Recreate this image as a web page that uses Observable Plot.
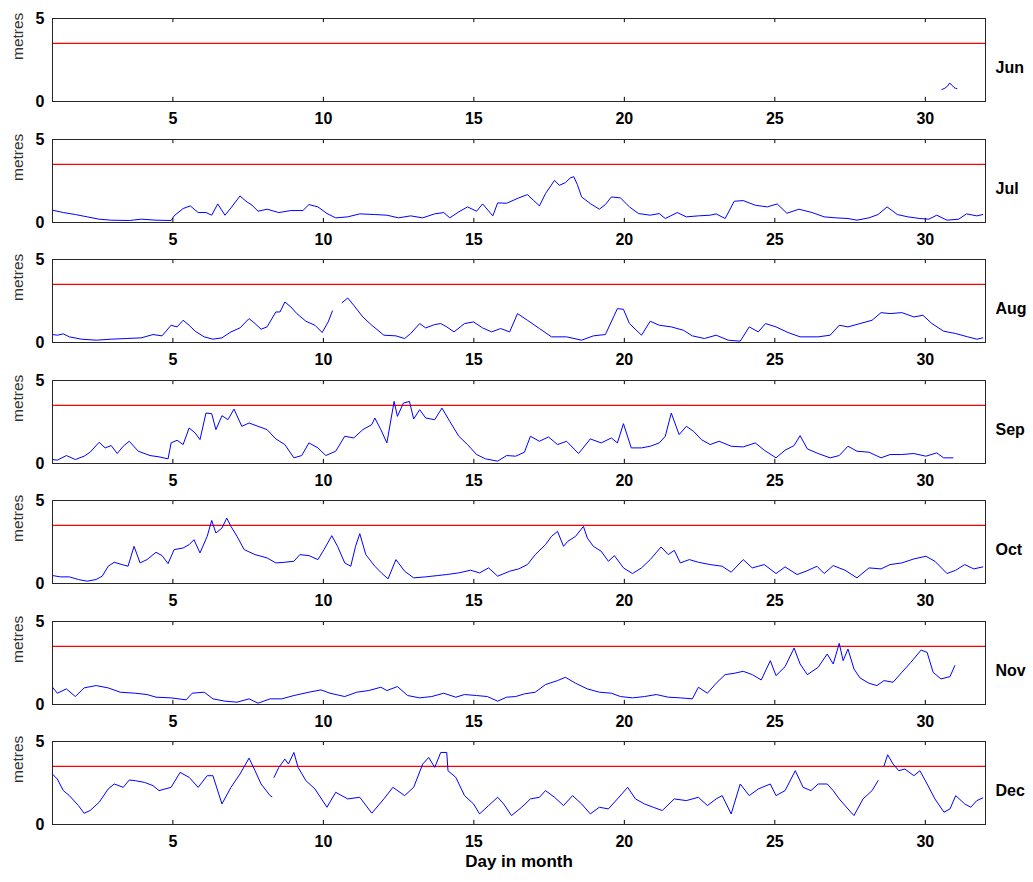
<!DOCTYPE html>
<html><head><meta charset="utf-8">
<script src="https://cdn.jsdelivr.net/npm/d3@7"></script>
<script src="https://cdn.jsdelivr.net/npm/@observablehq/plot@0.6"></script>
<style>
body{margin:0;background:#fff}
#c{position:relative;width:1033px;height:882px;overflow:hidden}
</style>
</head><body><div id="c"></div>
<script>
const months = ["Jun","Jul","Aug","Sep","Oct","Nov","Dec"];
const xTicks = [5,10,15,20,25,30];
const yTicks = [0,5];
const threshold = 3.5;
const xLabel = "Day in month";
const yLabel = "metres";

const jun = [[30.55,0.72],[30.65,0.8],[30.75,0.95],[30.8,1.1],[30.85,1.05],[30.9,0.95],[30.95,0.85],[31.0,0.8],[31.05,0.78]];
const jul = [[1.0,0.74],[1.36,0.6],[1.76,0.48],[2.15,0.34],[2.55,0.2],[2.95,0.14],[3.55,0.12],[3.95,0.2],[4.44,0.14],[4.94,0.12],[5.04,0.4],[5.34,0.84],[5.58,1.0],[5.84,0.6],[6.1,0.6],[6.29,0.44],[6.49,1.12],[6.73,0.44],[6.93,0.88],[7.23,1.6],[7.43,1.28],[7.63,1.04],[7.83,0.68],[8.13,0.8],[8.52,0.6],[8.92,0.72],[9.32,0.72],[9.52,1.08],[9.82,0.94],[10.12,0.54],[10.41,0.28],[10.81,0.34],[11.21,0.52],[11.71,0.48],[12.11,0.44],[12.5,0.28],[12.9,0.4],[13.3,0.28],[13.7,0.52],[14.0,0.6],[14.2,0.28],[14.5,0.64],[14.79,0.94],[15.09,0.68],[15.29,1.12],[15.63,0.4],[15.79,1.18],[16.09,1.16],[16.49,1.48],[16.78,1.68],[16.98,1.34],[17.18,1.0],[17.38,1.74],[17.68,2.54],[17.84,2.24],[18.04,2.4],[18.2,2.68],[18.32,2.76],[18.44,2.28],[18.58,1.54],[18.87,1.14],[19.17,0.8],[19.37,1.08],[19.57,1.54],[19.87,1.48],[20.17,0.94],[20.47,0.54],[20.86,0.44],[21.16,0.54],[21.36,0.24],[21.76,0.6],[22.06,0.34],[22.46,0.4],[22.85,0.44],[23.05,0.52],[23.35,0.24],[23.65,1.28],[23.95,1.32],[24.35,1.04],[24.75,0.94],[25.08,1.12],[25.4,0.56],[25.8,0.8],[26.24,0.6],[26.64,0.34],[27.03,0.28],[27.43,0.24],[27.73,0.14],[28.13,0.28],[28.43,0.48],[28.73,0.94],[29.07,0.48],[29.42,0.34],[29.82,0.24],[30.12,0.2],[30.38,0.44],[30.72,0.14],[31.11,0.2],[31.37,0.52],[31.71,0.4],[31.91,0.48]];
const aug = [[1.0,0.48],[1.16,0.44],[1.36,0.52],[1.56,0.34],[1.96,0.2],[2.45,0.14],[2.95,0.2],[3.45,0.24],[3.95,0.28],[4.34,0.48],[4.64,0.4],[4.94,1.04],[5.14,0.94],[5.34,1.34],[5.54,1.04],[5.74,0.68],[6.04,0.34],[6.33,0.2],[6.63,0.28],[6.93,0.64],[7.23,0.88],[7.53,1.44],[7.73,1.14],[7.93,0.8],[8.13,0.94],[8.42,1.84],[8.56,1.84],[8.72,2.44],[8.92,2.14],[9.12,1.74],[9.42,1.28],[9.72,1.04],[9.96,0.6],[10.16,1.24],[10.3,1.9],[10.45,NaN],[10.62,2.4],[10.81,2.68],[11.01,2.24],[11.31,1.54],[11.61,1.04],[12.01,0.44],[12.41,0.4],[12.7,0.24],[12.9,0.54],[13.2,1.14],[13.4,0.88],[13.7,1.08],[13.9,1.14],[14.1,0.94],[14.34,0.64],[14.69,1.14],[14.99,1.24],[15.29,0.88],[15.59,0.64],[15.89,0.84],[16.19,0.64],[16.45,1.74],[16.78,1.34],[17.18,0.84],[17.58,0.34],[18.08,0.34],[18.58,0.14],[18.97,0.4],[19.37,0.48],[19.77,2.04],[19.97,2.0],[20.17,1.14],[20.57,0.44],[20.86,1.28],[21.16,1.04],[21.56,0.94],[21.96,0.74],[22.26,0.4],[22.66,0.24],[23.05,0.44],[23.45,0.14],[23.85,0.08],[24.15,0.94],[24.45,0.64],[24.69,1.14],[25.04,0.94],[25.44,0.6],[25.84,0.34],[26.44,0.34],[26.84,0.44],[27.14,1.04],[27.43,0.94],[27.83,1.14],[28.23,1.34],[28.53,1.8],[28.83,1.74],[29.22,1.8],[29.62,1.54],[29.92,1.64],[30.22,1.14],[30.61,0.68],[31.01,0.54],[31.41,0.34],[31.71,0.2],[31.91,0.28]];
const sep = [[1.0,0.24],[1.16,0.2],[1.46,0.48],[1.76,0.24],[2.05,0.44],[2.25,0.68],[2.55,1.28],[2.75,0.94],[2.95,1.08],[3.15,0.6],[3.35,1.04],[3.55,1.34],[3.85,0.74],[4.24,0.48],[4.54,0.4],[4.84,0.28],[4.94,1.24],[5.14,1.4],[5.34,1.14],[5.54,2.14],[5.74,1.84],[5.9,1.44],[6.1,3.04],[6.29,3.0],[6.43,2.04],[6.63,2.88],[6.83,2.64],[7.03,3.28],[7.29,2.24],[7.53,2.44],[7.83,2.24],[8.13,2.04],[8.42,1.48],[8.72,1.14],[9.02,0.34],[9.28,0.48],[9.52,1.24],[9.82,0.94],[10.08,0.48],[10.41,0.74],[10.71,1.64],[11.01,1.54],[11.31,2.04],[11.61,2.34],[11.71,2.74],[11.91,2.04],[12.11,1.24],[12.35,3.74],[12.46,2.84],[12.66,3.64],[12.86,3.74],[13.0,2.68],[13.2,3.24],[13.4,2.74],[13.7,2.64],[13.94,3.34],[14.2,2.54],[14.5,1.64],[14.79,1.14],[15.09,0.54],[15.39,0.28],[15.79,0.14],[16.09,0.48],[16.39,0.44],[16.68,0.68],[16.88,1.64],[17.18,1.34],[17.48,1.6],[17.78,1.14],[18.08,1.34],[18.48,0.6],[18.87,1.48],[19.23,1.24],[19.57,1.54],[19.77,1.24],[19.97,2.4],[20.23,0.94],[20.57,0.94],[20.86,1.04],[21.16,1.24],[21.36,1.64],[21.56,3.04],[21.82,1.74],[22.06,2.24],[22.3,1.94],[22.56,1.44],[22.85,1.14],[23.15,1.34],[23.55,1.04],[23.95,1.0],[24.35,1.24],[24.65,0.8],[25.04,0.34],[25.34,0.8],[25.64,1.08],[25.84,1.68],[26.08,0.88],[26.44,0.6],[26.84,0.34],[27.14,0.48],[27.43,1.04],[27.73,0.74],[28.13,0.68],[28.53,0.34],[28.83,0.54],[29.22,0.54],[29.62,0.6],[30.02,0.44],[30.38,0.64],[30.61,0.34],[30.92,0.34]];
const oct = [[1.0,0.48],[1.26,0.4],[1.56,0.4],[1.86,0.24],[2.15,0.14],[2.45,0.24],[2.65,0.44],[2.85,1.04],[3.05,1.28],[3.31,1.14],[3.51,1.04],[3.71,2.24],[3.91,1.24],[4.14,1.44],[4.44,1.88],[4.64,1.68],[4.84,1.2],[5.04,2.04],[5.34,2.14],[5.54,2.34],[5.7,2.64],[5.9,1.84],[6.14,2.84],[6.29,3.8],[6.43,3.04],[6.63,3.34],[6.79,3.94],[6.93,3.44],[7.13,2.84],[7.37,2.04],[7.73,1.74],[8.13,1.54],[8.42,1.24],[8.72,1.28],[9.02,1.34],[9.22,1.74],[9.52,1.68],[9.82,1.44],[10.02,2.04],[10.28,2.88],[10.47,2.24],[10.71,1.24],[10.91,1.04],[11.07,2.24],[11.21,3.0],[11.41,1.74],[11.71,1.04],[11.95,0.6],[12.15,0.28],[12.41,1.44],[12.7,0.74],[13.0,0.34],[13.4,0.4],[13.8,0.48],[14.1,0.54],[14.5,0.64],[14.89,0.8],[15.19,0.64],[15.49,0.94],[15.79,0.44],[16.19,0.74],[16.49,0.88],[16.78,1.14],[17.04,1.74],[17.38,2.34],[17.58,2.84],[17.78,3.14],[17.98,2.24],[18.12,2.54],[18.38,2.84],[18.64,3.44],[18.77,2.74],[18.97,2.24],[19.23,1.94],[19.47,1.34],[19.67,1.68],[19.97,0.94],[20.27,0.6],[20.57,0.94],[20.86,1.44],[21.22,2.2],[21.46,1.74],[21.66,2.0],[21.86,1.24],[22.16,1.44],[22.46,1.28],[22.85,1.14],[23.25,1.04],[23.55,0.68],[23.95,1.44],[24.25,0.94],[24.65,1.14],[25.04,0.6],[25.34,1.0],[25.74,0.54],[26.04,0.74],[26.4,1.04],[26.64,0.6],[26.94,1.08],[27.33,0.8],[27.73,0.34],[28.13,0.94],[28.53,0.88],[28.83,1.14],[29.22,1.24],[29.62,1.48],[30.02,1.64],[30.32,1.34],[30.72,0.6],[31.01,0.8],[31.31,1.14],[31.61,0.88],[31.91,1.0]];
const nov = [[1.0,1.04],[1.16,0.68],[1.46,0.94],[1.76,0.48],[2.05,1.0],[2.45,1.14],[2.85,1.0],[3.25,0.74],[3.75,0.68],[4.14,0.6],[4.44,0.44],[4.94,0.4],[5.44,0.28],[5.64,0.68],[6.04,0.74],[6.33,0.34],[6.73,0.2],[7.13,0.14],[7.53,0.34],[7.83,0.08],[8.23,0.34],[8.62,0.34],[9.02,0.54],[9.52,0.74],[9.92,0.88],[10.22,0.68],[10.71,0.48],[11.11,0.74],[11.51,0.84],[11.91,1.04],[12.11,0.84],[12.46,1.08],[12.8,0.54],[13.2,0.4],[13.6,0.48],[14.0,0.68],[14.4,0.44],[14.69,0.6],[15.09,0.54],[15.45,0.48],[15.79,0.2],[16.09,0.44],[16.39,0.48],[16.68,0.64],[17.04,0.74],[17.38,1.2],[17.78,1.44],[18.04,1.64],[18.38,1.28],[18.77,0.94],[19.17,0.74],[19.57,0.68],[19.87,0.48],[20.27,0.4],[20.67,0.48],[21.06,0.6],[21.46,0.44],[21.86,0.4],[22.26,0.34],[22.46,1.04],[22.76,0.68],[23.05,1.28],[23.35,1.8],[23.65,1.88],[23.95,2.0],[24.25,1.8],[24.55,1.48],[24.85,2.64],[25.04,1.74],[25.34,2.28],[25.64,3.4],[25.84,2.44],[26.08,1.8],[26.44,2.24],[26.74,3.04],[26.94,2.44],[27.14,3.68],[27.27,2.64],[27.43,3.34],[27.63,2.14],[27.83,1.6],[28.13,1.28],[28.39,1.14],[28.63,1.44],[28.93,1.34],[29.22,1.94],[29.52,2.54],[29.86,3.28],[30.06,3.14],[30.26,1.94],[30.52,1.54],[30.82,1.68],[30.98,2.34]];
const dec = [[1.0,3.04],[1.16,2.74],[1.36,2.04],[1.56,1.74],[1.86,1.14],[2.05,0.68],[2.25,0.84],[2.55,1.34],[2.85,2.14],[3.05,2.44],[3.35,2.24],[3.55,2.68],[3.75,2.64],[4.05,2.54],[4.34,2.34],[4.54,2.04],[4.94,2.24],[5.24,3.14],[5.54,2.84],[5.84,2.24],[6.14,2.94],[6.33,2.94],[6.63,1.24],[6.93,2.24],[7.23,3.04],[7.53,4.0],[7.73,3.24],[7.93,2.44],[8.23,1.74],[8.29,1.68],[8.32,NaN],[8.36,2.84],[8.52,3.44],[8.72,3.94],[8.84,3.64],[9.02,4.34],[9.16,3.44],[9.42,2.64],[9.72,2.14],[10.12,1.04],[10.41,1.94],[10.81,1.54],[11.21,1.64],[11.61,0.68],[12.01,1.54],[12.31,2.24],[12.7,1.74],[13.0,2.24],[13.3,3.64],[13.5,4.04],[13.7,3.44],[13.9,4.34],[14.1,4.34],[14.14,3.24],[14.4,2.84],[14.69,1.74],[14.99,1.24],[15.19,0.64],[15.49,1.14],[15.79,1.64],[15.99,1.24],[16.25,0.54],[16.59,1.04],[16.88,1.54],[17.18,1.64],[17.38,2.04],[17.68,1.64],[17.98,1.14],[18.28,1.74],[18.58,1.24],[18.87,0.64],[19.17,1.04],[19.47,0.94],[19.77,1.54],[20.11,2.24],[20.37,1.54],[20.67,1.24],[20.96,1.04],[21.26,0.84],[21.66,1.54],[22.06,1.44],[22.46,1.64],[22.76,1.14],[23.05,1.54],[23.25,1.74],[23.55,0.64],[23.85,2.44],[24.15,1.74],[24.45,2.14],[24.85,2.44],[25.04,1.74],[25.34,2.04],[25.68,3.24],[25.94,2.24],[26.2,2.04],[26.44,2.44],[26.74,2.44],[26.94,2.04],[27.14,1.54],[27.33,1.14],[27.63,0.54],[27.93,1.54],[28.23,2.04],[28.43,2.64],[28.53,NaN],[28.63,3.54],[28.75,4.2],[28.93,3.64],[29.12,3.24],[29.32,3.34],[29.62,2.94],[29.82,3.24],[30.06,2.44],[30.32,1.54],[30.62,0.74],[30.82,0.94],[31.01,1.74],[31.31,1.24],[31.51,1.04],[31.71,1.44],[31.91,1.6]];

const series = [jun, jul, aug, sep, oct, nov, dec];

const container = document.getElementById("c");
const font = "'Liberation Sans', Arial, Helvetica, sans-serif";
series.forEach((raw, i) => {
  const data = raw.map(([day, m]) => ({day, m}));
  const last = i === series.length - 1;
  const mt = 10, mb = last ? 60 : 27;
  const chart = Plot.plot({
    width: 1033,
    height: mt + 83 + mb,
    marginLeft: 52, marginRight: 48, marginTop: mt, marginBottom: mb,
    style: {fontFamily: font, fontSize: "16px", fontWeight: "bold", color: "#000", background: "transparent", overflow: "visible"},
    x: {domain: [1, 32]},
    y: {domain: [0, 5]},
    marks: [
      Plot.ruleY([threshold], {stroke: "#ff0000", strokeWidth: 1.2}),
      Plot.line(data, {x: "day", y: "m", stroke: "#0000ff", strokeWidth: 1}),
      Plot.ruleX(xTicks, {x: d => d, y1: 0, y2: 0.25, stroke: "#000"}),
      Plot.ruleX(xTicks, {x: d => d, y1: 4.75, y2: 5, stroke: "#000"}),
      Plot.frame({stroke: "#262626"}),
      Plot.axisX(xTicks, {tickSize: 0, tickPadding: 11, label: null}),
      Plot.axisY(yTicks, {tickSize: 0, tickPadding: 8, label: null}),
      Plot.text([yLabel], {frameAnchor: "left", dx: -34, rotate: -90, text: d => d, fill: "#333", fontSize: 15.5, fontWeight: "normal"}),
      Plot.text([months[i]], {frameAnchor: "right", dx: 10, dy: 8, textAnchor: "start", text: d => d, fontSize: 16}),
      last ? Plot.text([xLabel], {frameAnchor: "bottom", dy: 42, text: d => d, fontSize: 17}) : null
    ]
  });
  chart.style.position = "absolute";
  chart.style.left = "0px";
  chart.style.top = (18.3 + i * 120.45 - mt) + "px";
  container.appendChild(chart);
});
</script>
</body></html>
